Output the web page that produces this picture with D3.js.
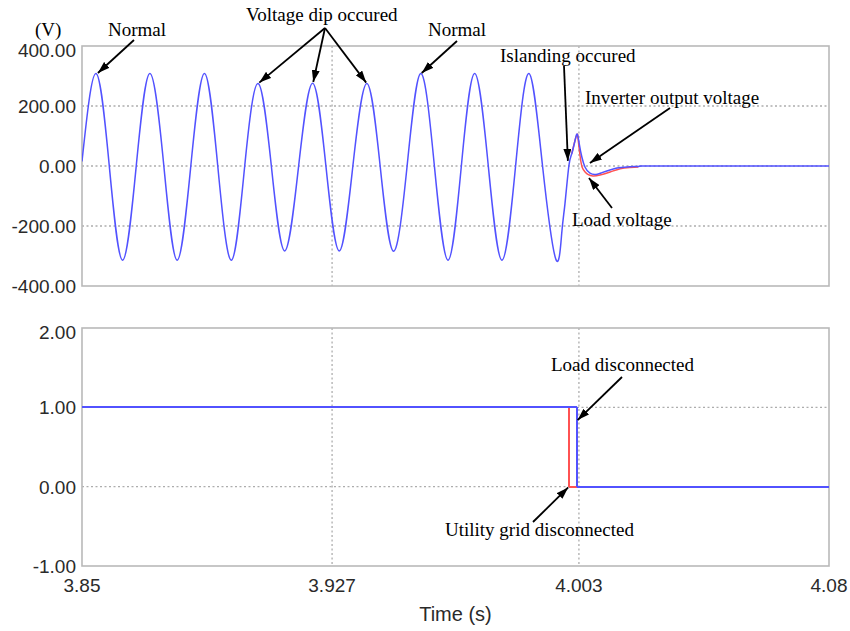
<!DOCTYPE html>
<html>
<head>
<meta charset="utf-8">
<script src="https://cdn.jsdelivr.net/npm/d3@7"></script>
<style>
    html, body { margin: 0; padding: 0; background: #fff; }
    svg { display: block; }
    .tick-label { font-family: "Liberation Sans", Arial, sans-serif; font-size: 19px; fill: #2a2a2a; }
    .note { font-family: "Liberation Serif", "Times New Roman", serif; font-size: 19px; fill: #000; }
</style>
</head>
<body>
<svg id="chart" width="850" height="631"></svg>
<script>
// Time axis (s)
const TIME_DOMAIN = [3.85, 4.08];
const TIME_TICKS = [3.85, 3.927, 4.003, 4.08];
const VOLT_TICKS = [400, 200, 0, -200, -400];
const STATE_TICKS = [2, 1, 0, -1];

// Grid-connected voltage, key points (peaks, troughs, zero crossings)
const gridTimes = [
    3.8500, 3.8543, 3.8584, 3.8625, 3.8667, 3.8709, 3.8752, 3.8793, 3.8835, 3.8877,
    3.8918, 3.8960, 3.9001, 3.9042, 3.9083, 3.9124, 3.9167, 3.9210, 3.9251, 3.9292,
    3.9334, 3.9377, 3.9418, 3.9459, 3.9501, 3.9543, 3.9585, 3.9627, 3.9668, 3.9709,
    3.9751, 3.9793, 3.9835, 3.9876, 3.9918, 3.9959, 3.9977, 3.9987, 3.9999, 4.0008,
    4.0018, 4.0025
];
const gridVolts = [
    15, 308, 0, -314, 0, 308, 0, -314, 0, 308,
    0, -314, 0, 275, 0, -283, 0, 276, 0, -283,
    0, 275, 0, -284, 0, 308, 0, -314, 0, 308,
    0, -314, 0, 308, 0, -311, -225, -126, 0, 41,
    85, 106
];

// After islanding: inverter output voltage
const inverterTimes = [4.0031, 4.0039, 4.0049, 4.0064, 4.0083, 4.0101, 4.0123, 4.0147, 4.0178, 4.0218, 4.0280, 4.0800];
const inverterVolts = [74, 30, -4, -24, -28, -22, -14, -7, -3, -1, 0, 0];

// After islanding: load voltage
const loadTimes = [4.0028, 4.0034, 4.0040, 4.0049, 4.0059, 4.0073, 4.0095, 4.0126, 4.0157, 4.0187, 4.0213];
const loadVolts = [85, 30, -4, -20, -29, -33, -30, -20, -9, -5, -3];

// Switch states (1 = connected)
const utilityTimes = [3.85, 4.0000, 4.08];
const utilityState = [1, 0, 0];
const loadSwitchTimes = [3.85, 4.0024, 4.08];
const loadSwitchState = [1, 0, 0];

const BLUE = '#5252ff';
const RED = '#ff5252';
const FRAME = '#b9b9b9';
const GRID = '#adadad';

const LEFT = 82;
const RIGHT = 829;
const TOP_PANEL = { top: 46, bottom: 286 };
const BOTTOM_PANEL = { top: 328, bottom: 566 };

const svg = d3.select('#chart');

const x = d3.scaleLinear().domain(TIME_DOMAIN).range([LEFT, RIGHT]);
const yVolt = d3.scaleLinear().domain([-400, 400]).range([TOP_PANEL.bottom, TOP_PANEL.top]);
const yState = d3.scaleLinear().domain([-1, 2]).range([BOTTOM_PANEL.bottom, BOTTOM_PANEL.top]);

function zipPoints(times, values) {
    return times.map((t, i) => [t, values[i]]);
}

// plain hyphen for negatives, as in the original plot
const fmt2 = d => d3.format('.2f')(d).replace('\u2212', '-');

function drawPanel(panel, y, yTicks) {
    const g = svg.append('g');

    // dotted grid, inner ticks only
    g.selectAll('.hgrid')
        .data(yTicks.slice(1, -1))
        .enter().append('line')
        .attr('x1', LEFT).attr('x2', RIGHT)
        .attr('y1', d => y(d)).attr('y2', d => y(d))
        .attr('stroke', GRID).attr('stroke-width', 1.3)
        .attr('stroke-dasharray', '2,2.5');

    g.selectAll('.vgrid')
        .data(TIME_TICKS.slice(1, -1))
        .enter().append('line')
        .attr('x1', d => x(d)).attr('x2', d => x(d))
        .attr('y1', panel.top).attr('y2', panel.bottom)
        .attr('stroke', GRID).attr('stroke-width', 1.3)
        .attr('stroke-dasharray', '2,2.5');

    g.append('rect')
        .attr('x', LEFT).attr('y', panel.top)
        .attr('width', RIGHT - LEFT).attr('height', panel.bottom - panel.top)
        .attr('fill', 'none')
        .attr('stroke', FRAME).attr('stroke-width', 1.6);

    g.selectAll('.ylab')
        .data(yTicks)
        .enter().append('text')
        .attr('class', 'tick-label')
        .attr('x', 76)
        .attr('y', d => Math.max(y(d), panel.top + 4) + 7)
        .attr('text-anchor', 'end')
        .text(fmt2);

    return g;
}

function drawTrace(g, points, y, color, curve, crisp) {
    const line = d3.line()
        .x(d => x(d[0]))
        .y(d => y(d[1]))
        .curve(curve);

    g.append('path')
        .datum(points)
        .attr('d', line)
        .attr('fill', 'none')
        .attr('stroke', color)
        .attr('stroke-width', crisp ? 2 : 1.5)
        .attr('stroke-linejoin', 'round')
        .attr('shape-rendering', crisp ? 'crispEdges' : null);
}

const topG = drawPanel(TOP_PANEL, yVolt, VOLT_TICKS);
const bottomG = drawPanel(BOTTOM_PANEL, yState, STATE_TICKS);

svg.append('clipPath').attr('id', 'clip-top').append('rect')
    .attr('x', LEFT).attr('y', TOP_PANEL.top)
    .attr('width', RIGHT - LEFT).attr('height', TOP_PANEL.bottom - TOP_PANEL.top);
const traces = topG.append('g').attr('clip-path', 'url(#clip-top)');

const gridPoints = zipPoints(gridTimes, gridVolts);
// load voltage lies under the inverter trace until islanding, so only its diverging part shows
drawTrace(traces, gridPoints.slice(-3).concat(zipPoints(loadTimes, loadVolts)), yVolt, RED, d3.curveNatural);
drawTrace(traces, gridPoints.concat(zipPoints(inverterTimes, inverterVolts)), yVolt, BLUE, d3.curveNatural);

drawTrace(bottomG, zipPoints(utilityTimes, utilityState), yState, RED, d3.curveStepAfter, true);
drawTrace(bottomG, zipPoints(loadSwitchTimes, loadSwitchState), yState, BLUE, d3.curveStepAfter, true);

// x axis labels
svg.selectAll('.xlab')
    .data(TIME_TICKS)
    .enter().append('text')
    .attr('class', 'tick-label')
    .attr('x', d => x(d))
    .attr('y', 592)
    .attr('text-anchor', 'middle')
    .text(d => d);

svg.append('text')
    .attr('class', 'tick-label')
    .attr('x', (LEFT + RIGHT) / 2)
    .attr('y', 621)
    .attr('text-anchor', 'middle')
    .style('font-size', '20px')
    .text('Time (s)');

// annotations
const NOTES = [
    { text: '(V)', x: 35, y: 36 },
    { text: 'Normal', x: 108, y: 35.5 },
    { text: 'Voltage dip occured', x: 246, y: 20.5 },
    { text: 'Normal', x: 428, y: 35.5 },
    { text: 'Islanding occured', x: 500, y: 61.5 },
    { text: 'Inverter output voltage', x: 585, y: 104 },
    { text: 'Load voltage', x: 572, y: 226 },
    { text: 'Load disconnected', x: 551, y: 371 },
    { text: 'Utility grid disconnected', x: 445, y: 536 }
];

// arrows: tail in pixels, head at a data point
const ARROWS = [
    { from: [134, 40], to: [3.8549, 310], y: yVolt },
    { from: [325, 28], to: [3.9046, 278], y: yVolt },
    { from: [325, 28], to: [3.9212, 280], y: yVolt },
    { from: [325, 28], to: [3.9375, 278], y: yVolt },
    { from: [457, 41], to: [3.9546, 310], y: yVolt },
    { from: [564, 66], to: [3.9996, 17], y: yVolt },
    { from: [670, 108], to: [4.0064, 10], y: yVolt },
    { from: [612, 208], to: [4.0061, -40], y: yVolt },
    { from: [622, 377], to: [4.0026, 0.84], y: yState },
    { from: [533, 522], to: [3.9997, -0.01], y: yState }
];

svg.append('defs').append('marker')
    .attr('id', 'arrowhead')
    .attr('viewBox', '0 0 12 8')
    .attr('refX', 12).attr('refY', 4)
    .attr('markerUnits', 'userSpaceOnUse')
    .attr('markerWidth', 12).attr('markerHeight', 8)
    .attr('orient', 'auto')
    .append('path')
    .attr('d', 'M0,0 L12,4 L0,8 Z')
    .attr('fill', '#000');

svg.selectAll('.arrow')
    .data(ARROWS)
    .enter().append('line')
    .attr('x1', d => d.from[0]).attr('y1', d => d.from[1])
    .attr('x2', d => x(d.to[0])).attr('y2', d => d.y(d.to[1]))
    .attr('stroke', '#000').attr('stroke-width', 1.8)
    .attr('marker-end', 'url(#arrowhead)');

svg.selectAll('.note')
    .data(NOTES)
    .enter().append('text')
    .attr('class', 'note')
    .attr('x', d => d.x).attr('y', d => d.y)
    .text(d => d.text);
</script>
</body>
</html>
